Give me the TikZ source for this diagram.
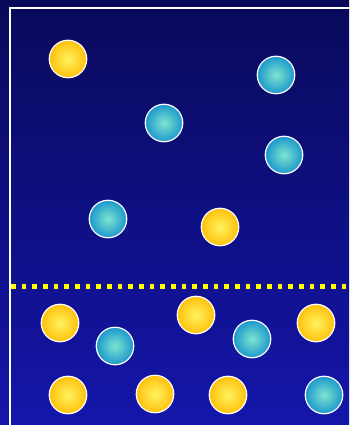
\documentclass[tikz,border=0pt]{standalone}
\usepackage{xcolor}
\usepackage{tikz}
\definecolor{skytop}{RGB}{9,9,90}
\definecolor{skybot}{RGB}{20,22,170}
\definecolor{goldin}{RGB}{255,244,95}
\definecolor{goldout}{RGB}{255,192,12}
\definecolor{tealin}{RGB}{125,228,208}
\definecolor{tealout}{RGB}{28,152,204}
\definecolor{dotyel}{RGB}{255,255,0}

\begin{document}
\begin{tikzpicture}[
  x=1pt, y=-1pt,
  ball/.style={circle, draw=white, line width=1.2pt, inner sep=0pt,
    minimum size=37.5pt, shading=radial},
  gold/.style={ball, inner color=goldin, outer color=goldout},
  teal/.style={ball, inner color=tealin, outer color=tealout},
  frame/.style={draw=white, line width=2pt},
  dotline/.style={draw=dotyel, line width=5pt,
    dash pattern=on 4.7pt off 5.97pt}
]

\useasboundingbox (0,0) rectangle (349,425);
\shade[top color=skytop, bottom color=skybot] (0,0) rectangle (349,425);
\draw[frame] (10,426) -- (10,8) -- (350,8);

\coordinate (left) at (11,286);
\coordinate (right) at (349,286);
\draw[dotline] (left) -- (right);

\node[gold] (g1) at (68,59) {};
\node[teal] (t1) at (276,75) {};
\node[teal] (t2) at (164,123) {};
\node[teal] (t3) at (284,155) {};
\node[teal] (t4) at (108,219) {};
\node[gold] (g2) at (220,227) {};

\node[gold] (g3) at (60,323) {};
\node[teal] (t5) at (115,346) {};
\node[gold] (g4) at (196,315) {};
\node[teal] (t6) at (252,339) {};
\node[gold] (g5) at (316,323) {};
\node[gold] (g6) at (68,395) {};
\node[gold] (g7) at (155,394) {};
\node[gold] (g8) at (228,395) {};
\node[teal] (t7) at (324,395) {};

\end{tikzpicture}
\end{document}
